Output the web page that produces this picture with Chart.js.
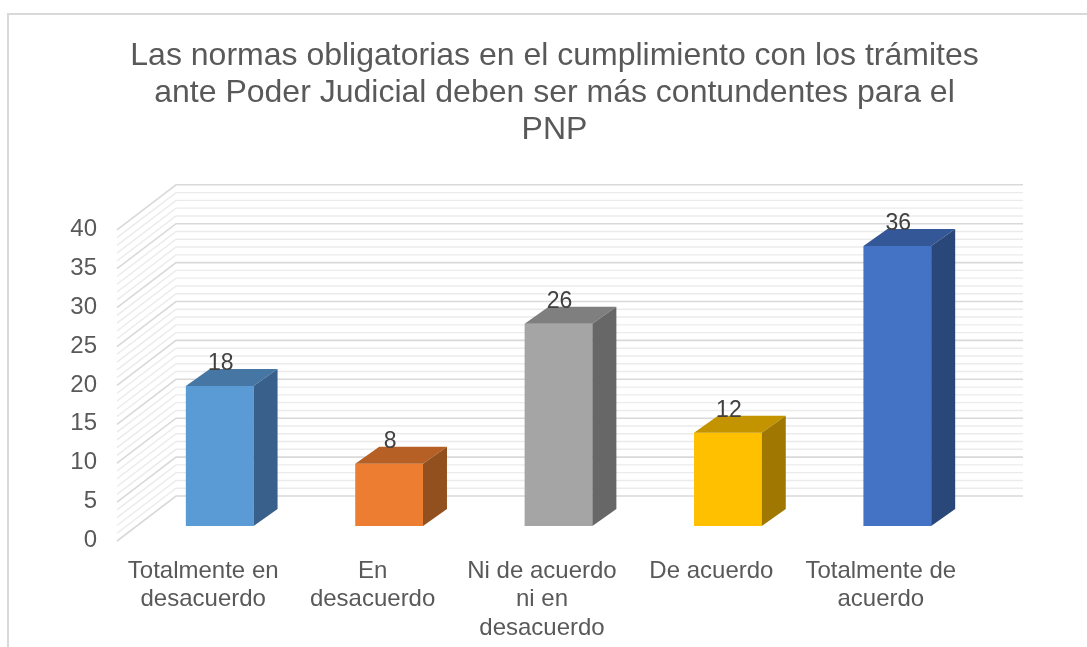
<!DOCTYPE html>
<html><head><meta charset="utf-8">
<script src="https://cdn.jsdelivr.net/npm/chart.js@4.4.1/dist/chart.umd.min.js"></script>
<style>html,body{margin:0;padding:0;background:#fff;overflow:hidden}#wrap{width:1087px;height:647px;position:relative}</style>
</head><body><div id="wrap"><canvas id="c" width="1087" height="647"></canvas></div>
<script>
const titleLines = [
  "Las normas obligatorias en el cumplimiento con los trámites",
  "ante Poder Judicial deben ser más contundentes para el",
  "PNP"
];
const categories = [
  ["Totalmente en", "desacuerdo"],
  ["En", "desacuerdo"],
  ["Ni de acuerdo", "ni en", "desacuerdo"],
  ["De acuerdo"],
  ["Totalmente de", "acuerdo"]
];
const values = [18, 8, 26, 12, 36];
const yMin = 0;
const yMax = 40;
const yStep = 5;
const yMinorStep = 1;

const frontColors = ["#5b9bd5", "#ed7d31", "#a5a5a5", "#ffc000", "#4472c4"];
const topColors   = ["#4677a4", "#b66026", "#7f7f7f", "#c49400", "#345797"];
const sideColors  = ["#38608a", "#93501f", "#676767", "#a07700", "#2a4779"];

const FONT = "'Liberation Sans', Arial, sans-serif";
const WALL_FRONT = {dx: -18, dy: 15};
const WALL_BACK = {dx: 41, dy: -30};
const BAR_DEPTH = {dx: 24, dy: -17};

const frame3d = {
  id: 'frame3d',
  beforeDraw(chart) {
    const c = chart.ctx;
    c.save();
    c.fillStyle = '#ffffff';
    c.fillRect(0, 0, chart.width, chart.height);
    c.strokeStyle = '#d9d9d9';
    c.lineWidth = 2;
    c.strokeRect(8, 14, chart.width + 20, chart.height + 20);
    c.restore();
  },
  beforeDatasetsDraw(chart) {
    const c = chart.ctx, a = chart.chartArea, ys = chart.scales.y;
    c.save();
    [false, true].forEach(drawMajor => {
      for (let v = yMin; v <= yMax; v += yMinorStep) {
        const major = v % yStep === 0;
        if (major !== drawMajor) continue;
        const p = ys.getPixelForValue(v);
        c.strokeStyle = major ? '#d9d9d9' : '#ebebeb';
        c.lineWidth = major ? 1.6 : 1.4;
        c.beginPath();
        c.moveTo(a.left + WALL_FRONT.dx, p + WALL_FRONT.dy);
        c.lineTo(a.left + WALL_BACK.dx, p + WALL_BACK.dy);
        c.lineTo(a.right + WALL_BACK.dx, p + WALL_BACK.dy);
        c.stroke();
      }
    });
    c.restore();
  },
  afterDatasetsDraw(chart) {
    const c = chart.ctx;
    const meta = chart.getDatasetMeta(0);
    c.save();
    meta.data.forEach((bar, i) => {
      const {x, y, base, width} = bar.getProps(['x', 'y', 'base', 'width'], true);
      const l = x - width / 2, r = x + width / 2, dx = BAR_DEPTH.dx, dy = BAR_DEPTH.dy;
      c.fillStyle = topColors[i];
      c.beginPath();
      c.moveTo(l, y); c.lineTo(l + dx, y + dy); c.lineTo(r + dx, y + dy); c.lineTo(r, y);
      c.closePath(); c.fill();
      c.fillStyle = sideColors[i];
      c.beginPath();
      c.moveTo(r, y); c.lineTo(r + dx, y + dy); c.lineTo(r + dx, base + dy); c.lineTo(r, base);
      c.closePath(); c.fill();
    });
    meta.data.forEach((bar, i) => {
      const {x, y} = bar.getProps(['x', 'y'], true);
      c.fillStyle = '#404040';
      c.font = '23px ' + FONT;
      c.textAlign = 'center';
      c.textBaseline = 'alphabetic';
      c.fillText(String(values[i]), x + 1, y + BAR_DEPTH.dy + 1);
    });
    c.restore();
  }
};

new Chart(document.getElementById('c').getContext('2d'), {
  type: 'bar',
  data: {
    labels: categories,
    datasets: [{
      data: values,
      backgroundColor: frontColors,
      borderWidth: 0,
      categoryPercentage: 1,
      barPercentage: 0.4
    }]
  },
  options: {
    responsive: false,
    animation: false,
    devicePixelRatio: 1,
    layout: {padding: {left: 22, right: 0, top: 0, bottom: 0}},
    plugins: {
      legend: {display: false},
      tooltip: {enabled: false},
      title: {
        display: true,
        text: titleLines,
        color: '#595959',
        font: {family: FONT, size: 32, weight: 'normal', lineHeight: 1.17},
        padding: {top: 37, bottom: 65.5}
      }
    },
    scales: {
      x: {
        grid: {display: false},
        border: {display: false},
        ticks: {
          color: '#595959',
          font: {family: FONT, size: 24, lineHeight: 1.1875},
          padding: 23,
          labelOffset: -16.5,
          maxRotation: 0,
          minRotation: 0,
          autoSkip: false
        },
        afterFit: s => { s.height = 121; }
      },
      y: {
        min: yMin,
        max: yMax,
        grid: {display: false},
        border: {display: false},
        ticks: {
          stepSize: yStep,
          color: '#595959',
          font: {family: FONT, size: 24},
          padding: 30,
          labelOffset: 14.5
        },
        afterFit: s => { s.width = 113; }
      },
      yRight: {
        position: 'right',
        display: true,
        grid: {display: false},
        border: {display: false},
        ticks: {display: false},
        afterFit: s => { s.width = 105; }
      }
    }
  },
  plugins: [frame3d]
});
</script>
</body></html>
